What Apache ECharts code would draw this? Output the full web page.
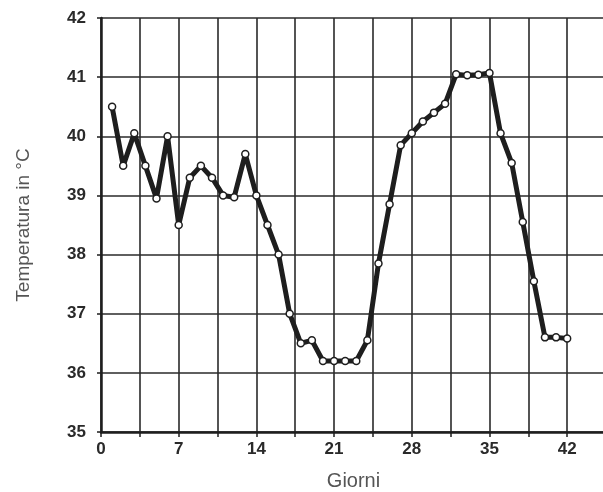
<!DOCTYPE html>
<html>
<head>
<meta charset="utf-8">
<script src="https://cdn.jsdelivr.net/npm/echarts@6/dist/echarts.min.js"></script>
<style>
  html, body { margin: 0; padding: 0; background: #fff; }
  #chart { width: 603px; height: 492px; }
</style>
</head>
<body>
<div id="chart"></div>
<script>
// Daily body temperature over six weeks
const days = [1, 2, 3, 4, 5, 6, 7, 8, 9, 10, 11, 12, 13, 14, 15, 16, 17, 18, 19, 20, 21,
  22, 23, 24, 25, 26, 27, 28, 29, 30, 31, 32, 33, 34, 35, 36, 37, 38, 39, 40, 41, 42];
const temps = [40.5, 39.5, 40.05, 39.5, 38.95, 40.0, 38.5, 39.3, 39.5, 39.3, 39.0, 38.97,
  39.7, 39.0, 38.5, 38.0, 37.0, 36.5, 36.55, 36.2, 36.2, 36.2, 36.2, 36.55, 37.85, 38.85,
  39.85, 40.05, 40.25, 40.4, 40.55, 41.05, 41.03, 41.04, 41.07, 40.05, 39.55, 38.55, 37.55,
  36.6, 36.6, 36.58];
const xTickLabels = [0, 7, 14, 21, 28, 35, 42];
const yTickLabels = [35, 36, 37, 38, 39, 40, 41, 42];

const ink = '#1e1e1e';
const chart = echarts.init(document.getElementById('chart'), null, { renderer: 'canvas' });

chart.setOption({
  backgroundColor: '#ffffff',
  animation: false,
  grid: { left: 101, right: -3, top: 18, bottom: 60, containLabel: false, outerBoundsMode: 'none' },
  xAxis: {
    type: 'value',
    min: 0,
    max: 45.5,
    interval: 3.5,
    name: 'Giorni',
    nameLocation: 'middle',
    nameGap: 39,
    nameTextStyle: { fontFamily: 'Liberation Sans', fontSize: 20, color: '#555' },
    axisLine: { show: true, onZero: false, lineStyle: { color: ink, width: 2.5 } },
    axisTick: { show: true, length: 5, lineStyle: { color: ink, width: 1.5 } },
    splitLine: { show: true, lineStyle: { color: '#2a2a2a', width: 1.6 } },
    axisLabel: {
      margin: 9,
      fontFamily: 'Liberation Sans',
      fontWeight: 'bold',
      fontSize: 17,
      color: '#2a2a2a',
      formatter: v => (xTickLabels.indexOf(Math.round(v * 10) / 10) >= 0 ? String(v) : ''),
      showMaxLabel: false
    }
  },
  yAxis: {
    type: 'value',
    min: 35,
    max: 42,
    interval: 1,
    name: 'Temperatura in °C',
    nameLocation: 'middle',
    nameRotate: 90,
    nameGap: 68,
    nameTextStyle: { fontFamily: 'Liberation Sans', fontSize: 19, color: '#555' },
    axisLine: { show: true, lineStyle: { color: ink, width: 2.5 } },
    axisTick: { show: true, length: 4, lineStyle: { color: ink, width: 1.5 } },
    splitLine: { show: true, lineStyle: { color: '#2a2a2a', width: 1.6 } },
    axisLabel: {
      margin: 15,
      fontFamily: 'Liberation Sans',
      fontWeight: 'bold',
      fontSize: 17,
      color: '#2a2a2a',
      formatter: v => (yTickLabels.indexOf(v) >= 0 ? String(v) : '')
    }
  },
  series: [{
    type: 'line',
    data: days.map((d, i) => [d, temps[i]]),
    symbol: 'circle',
    symbolSize: 7,
    showAllSymbol: true,
    lineStyle: { color: ink, width: 5 },
    itemStyle: { color: '#ffffff', borderColor: ink, borderWidth: 1.5 },
    z: 5
  }]
});
</script>
</body>
</html>
